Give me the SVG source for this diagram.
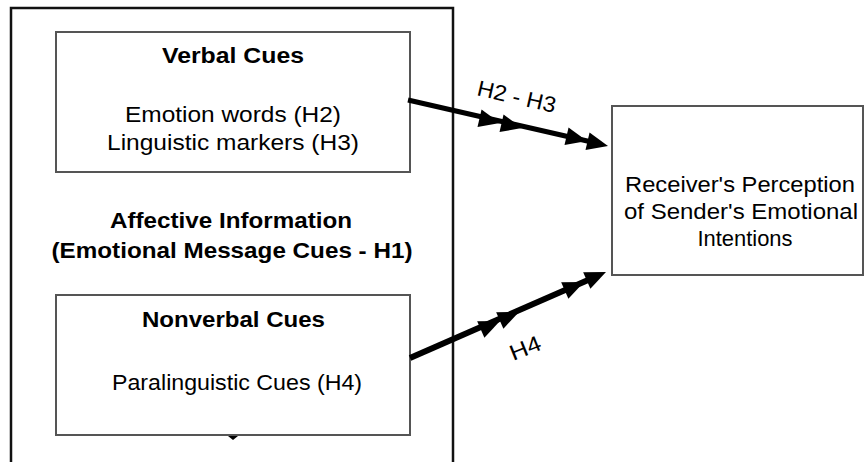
<svg xmlns="http://www.w3.org/2000/svg" width="865" height="462" viewBox="0 0 865 462">
<defs>
<style>
.box{fill:#fff;stroke:#555;stroke-width:2}
.outer{fill:#fff;stroke:#111;stroke-width:2.5}
.t{font-family:"Liberation Sans",Arial,sans-serif;font-size:22px;fill:#000;text-anchor:middle}
.b{font-weight:bold}
.conn{stroke:#000;stroke-width:5;fill:none}
</style>
<path id="ah" d="M0,0 L-21,-9 L-21,9 Z" fill="#000"/>
</defs>
<rect width="865" height="462" fill="#fff"/>
<g id="outer">
<rect class="outer" x="11" y="8" width="442" height="470"/>
<text class="t b" x="231" y="228" textLength="242" lengthAdjust="spacingAndGlyphs">Affective Information</text>
<text class="t b" x="232" y="258" textLength="361" lengthAdjust="spacingAndGlyphs">(Emotional Message Cues - H1)</text>
</g>
<g id="verbal">
<rect class="box" x="56" y="32" width="354" height="140"/>
<text class="t b" x="233" y="63" textLength="142" lengthAdjust="spacingAndGlyphs">Verbal Cues</text>
<text class="t" x="233" y="122" textLength="216" lengthAdjust="spacingAndGlyphs">Emotion words (H2)</text>
<text class="t" x="233" y="150" textLength="252" lengthAdjust="spacingAndGlyphs">Linguistic markers (H3)</text>
</g>
<g id="nonverbal">
<rect class="box" x="56" y="295" width="354" height="140"/>
<text class="t b" x="233.5" y="327" textLength="183" lengthAdjust="spacingAndGlyphs">Nonverbal Cues</text>
<text class="t" x="237" y="390" textLength="250" lengthAdjust="spacingAndGlyphs">Paralinguistic Cues (H4)</text>
<path d="M228,436 L238,436 L233,440 Z" fill="#000"/>
</g>
<g id="receiver">
<rect class="box" x="612" y="106" width="251" height="169"/>
<text class="t" x="740" y="192" textLength="230" lengthAdjust="spacingAndGlyphs">Receiver's Perception</text>
<text class="t" x="741" y="219" textLength="234" lengthAdjust="spacingAndGlyphs">of Sender's Emotional</text>
<text class="t" x="745" y="246" textLength="95" lengthAdjust="spacingAndGlyphs">Intentions</text>
</g>
<g id="connectors">
<line class="conn" x1="408" y1="100" x2="596" y2="143"/>
<use href="#ah" transform="translate(500,123) rotate(12.95)"/>
<use href="#ah" transform="translate(522,128) rotate(12.95)"/>
<use href="#ah" transform="translate(587,141) rotate(12.95)"/>
<use href="#ah" transform="translate(608,146) rotate(12.95)"/>
<text class="t" transform="translate(515,104) rotate(13)" textLength="80" lengthAdjust="spacingAndGlyphs">H2 - H3</text>
<line class="conn" x1="410" y1="358" x2="595" y2="277" style="stroke-width:6"/>
<use href="#ah" transform="translate(500,321) rotate(-23.7)"/>
<use href="#ah" transform="translate(519,312) rotate(-23.7)"/>
<use href="#ah" transform="translate(584,282) rotate(-23.7)"/>
<use href="#ah" transform="translate(606,272) rotate(-23.7)"/>
<text class="t" transform="translate(528,355) rotate(-22)" textLength="32" lengthAdjust="spacingAndGlyphs">H4</text>
</g>
</svg>
